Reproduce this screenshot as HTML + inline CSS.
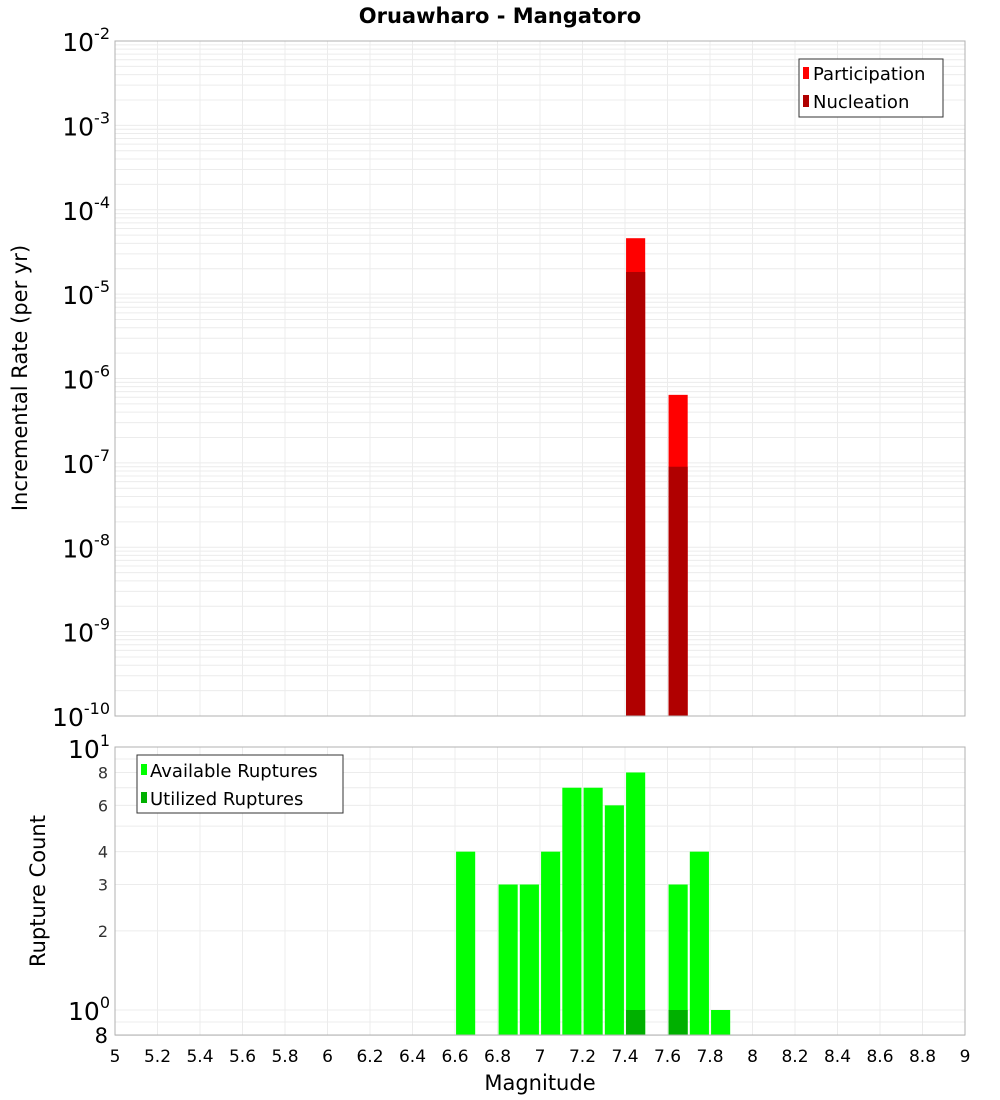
<!DOCTYPE html>
<html><head><meta charset="utf-8"><style>
body{margin:0;background:#fff;}
svg{display:block;font-family:"DejaVu Sans","Liberation Sans",sans-serif;}
</style></head><body>
<svg id="c" width="1000" height="1100" viewBox="0 0 1000 1100">
<text x="500" y="23" text-anchor="middle" font-size="21" font-weight="bold">Oruawharo - Mangatoro</text>
<g id="topPanel"></g>
<g id="botPanel"></g>
<text transform="translate(27,378) rotate(-90)" text-anchor="middle" font-size="21">Incremental Rate (per yr)</text>
<text transform="translate(45,891) rotate(-90)" text-anchor="middle" font-size="21">Rupture Count</text>
<text x="540" y="1090" text-anchor="middle" font-size="21">Magnitude</text>
</svg>
<script>
const rateMags=[7.45,7.65];
const participation=[4.6e-5,6.4e-7];
const nucleation=[1.83e-5,9e-8];
const countMags=[6.65,6.85,6.95,7.05,7.15,7.25,7.35,7.45,7.65,7.75,7.85];
const available=[4,3,3,4,7,7,6,8,3,4,1];
const utilMags=[7.45,7.65];
const utilized=[1,1];
const xTicks=[5,5.2,5.4,5.6,5.8,6,6.2,6.4,6.6,6.8,7,7.2,7.4,7.6,7.8,8,8.2,8.4,8.6,8.8,9];
const rateExps=[-2,-3,-4,-5,-6,-7,-8,-9,-10];
const countTicks=[8,6,4,3,2];

const NS="http://www.w3.org/2000/svg";
const L=115,R=965;
const x=m=>L+(m-5)/4*(R-L);
const T1=41,B1=716;
const y1=v=>T1+(-2-Math.log10(v))/8*(B1-T1);
const T2=747,B2=1035;
const y2=v=>1010+(-Math.log10(v))*263;
function mk(p,tag,a,txt){const e=document.createElementNS(NS,tag);for(const k in a)e.setAttribute(k,a[k]);if(txt!==undefined)e.textContent=txt;p.appendChild(e);return e;}
const topG=document.getElementById('topPanel'),botG=document.getElementById('botPanel');
const bw=0.09*(R-L)/4;

for(let d=-10;d<-2;d++){for(let k=1;k<10;k++){const v=k*Math.pow(10,d);const g=mk(topG,'line',{x1:L,x2:R,y1:y1(v),y2:y1(v),stroke:'#ececec','stroke-width':1});

}}
xTicks.forEach(t=>{const g=mk(topG,'line',{x1:x(t),x2:x(t),y1:T1,y2:B1,stroke:'#ececec'});


const g2=mk(botG,'line',{x1:x(t),x2:x(t),y1:T2,y2:B2,stroke:'#ececec'});

});
rateMags.forEach((m,i)=>{
 const a=mk(topG,'rect',{x:x(m)-bw/2,y:y1(participation[i]),width:bw,height:B1-y1(participation[i]),fill:'#ff0000'});
 
 
 const b=mk(topG,'rect',{x:x(m)-bw/2,y:y1(nucleation[i]),width:bw,height:B1-y1(nucleation[i]),fill:'#b00000'});
 
 
});
mk(topG,'rect',{x:L,y:T1,width:R-L,height:B1-T1,fill:'none',stroke:'#b0b0b0'});
rateExps.forEach(e=>{const t=mk(topG,'text',{x:110,y:y1(Math.pow(10,e))+10,'text-anchor':'end','font-size':25});


mk(t,'tspan',{},'10');mk(t,'tspan',{dy:-12,'font-size':16},String(e));});

for(let k=8;k<=10;k++){const v=k/10;mk(botG,'line',{x1:L,x2:R,y1:y2(v),y2:y2(v),stroke:'#ececec'});}
for(let k=2;k<=10;k++){const g=mk(botG,'line',{x1:L,x2:R,y1:y2(k),y2:y2(k),stroke:'#ececec'});

}
countMags.forEach((m,i)=>{const r=mk(botG,'rect',{x:x(m)-bw/2,y:y2(available[i]),width:bw,height:B2-y2(available[i]),fill:'#00ff00'});

});
utilMags.forEach((m,i)=>{const r=mk(botG,'rect',{x:x(m)-bw/2,y:y2(utilized[i]),width:bw,height:B2-y2(utilized[i]),fill:'#00b000'});

});
mk(botG,'rect',{x:L,y:T2,width:R-L,height:B2-T2,fill:'none',stroke:'#b0b0b0'});
countTicks.forEach(v=>{const t=mk(botG,'text',{x:108,y:y2(v)+6,'text-anchor':'end','font-size':16,fill:'#333'},String(v));

});
let t=mk(botG,'text',{x:110,y:758,'text-anchor':'end','font-size':25});mk(t,'tspan',{},'10');mk(t,'tspan',{dy:-12,'font-size':16},'1');


t=mk(botG,'text',{x:110,y:1020,'text-anchor':'end','font-size':25});mk(t,'tspan',{},'10');mk(t,'tspan',{dy:-12,'font-size':16},'0');


t=mk(botG,'text',{x:108,y:1043,'text-anchor':'end','font-size':21},'8');


xTicks.forEach(v=>{const s=mk(botG,'text',{x:x(v),y:1062,'text-anchor':'middle','font-size':17},String(v));

});

const lg1=mk(topG,'g',{});


mk(lg1,'rect',{x:799,y:59,width:144,height:58,fill:'#fff',stroke:'#333'});
mk(lg1,'rect',{x:803,y:67,width:6,height:12,fill:'#ff0000'});
mk(lg1,'text',{x:813,y:80,'font-size':18},'Participation');
mk(lg1,'rect',{x:803,y:95,width:6,height:12,fill:'#b00000'});
mk(lg1,'text',{x:813,y:108,'font-size':18},'Nucleation');
const lg2=mk(botG,'g',{});


mk(lg2,'rect',{x:137,y:755,width:206,height:58,fill:'#fff',stroke:'#333'});
mk(lg2,'rect',{x:141,y:764,width:6,height:11,fill:'#00ff00'});
mk(lg2,'text',{x:150,y:777,'font-size':18},'Available Ruptures');
mk(lg2,'rect',{x:141,y:792,width:6,height:11,fill:'#00b000'});
mk(lg2,'text',{x:150,y:805,'font-size':18},'Utilized Ruptures');
</script>
</body></html>
